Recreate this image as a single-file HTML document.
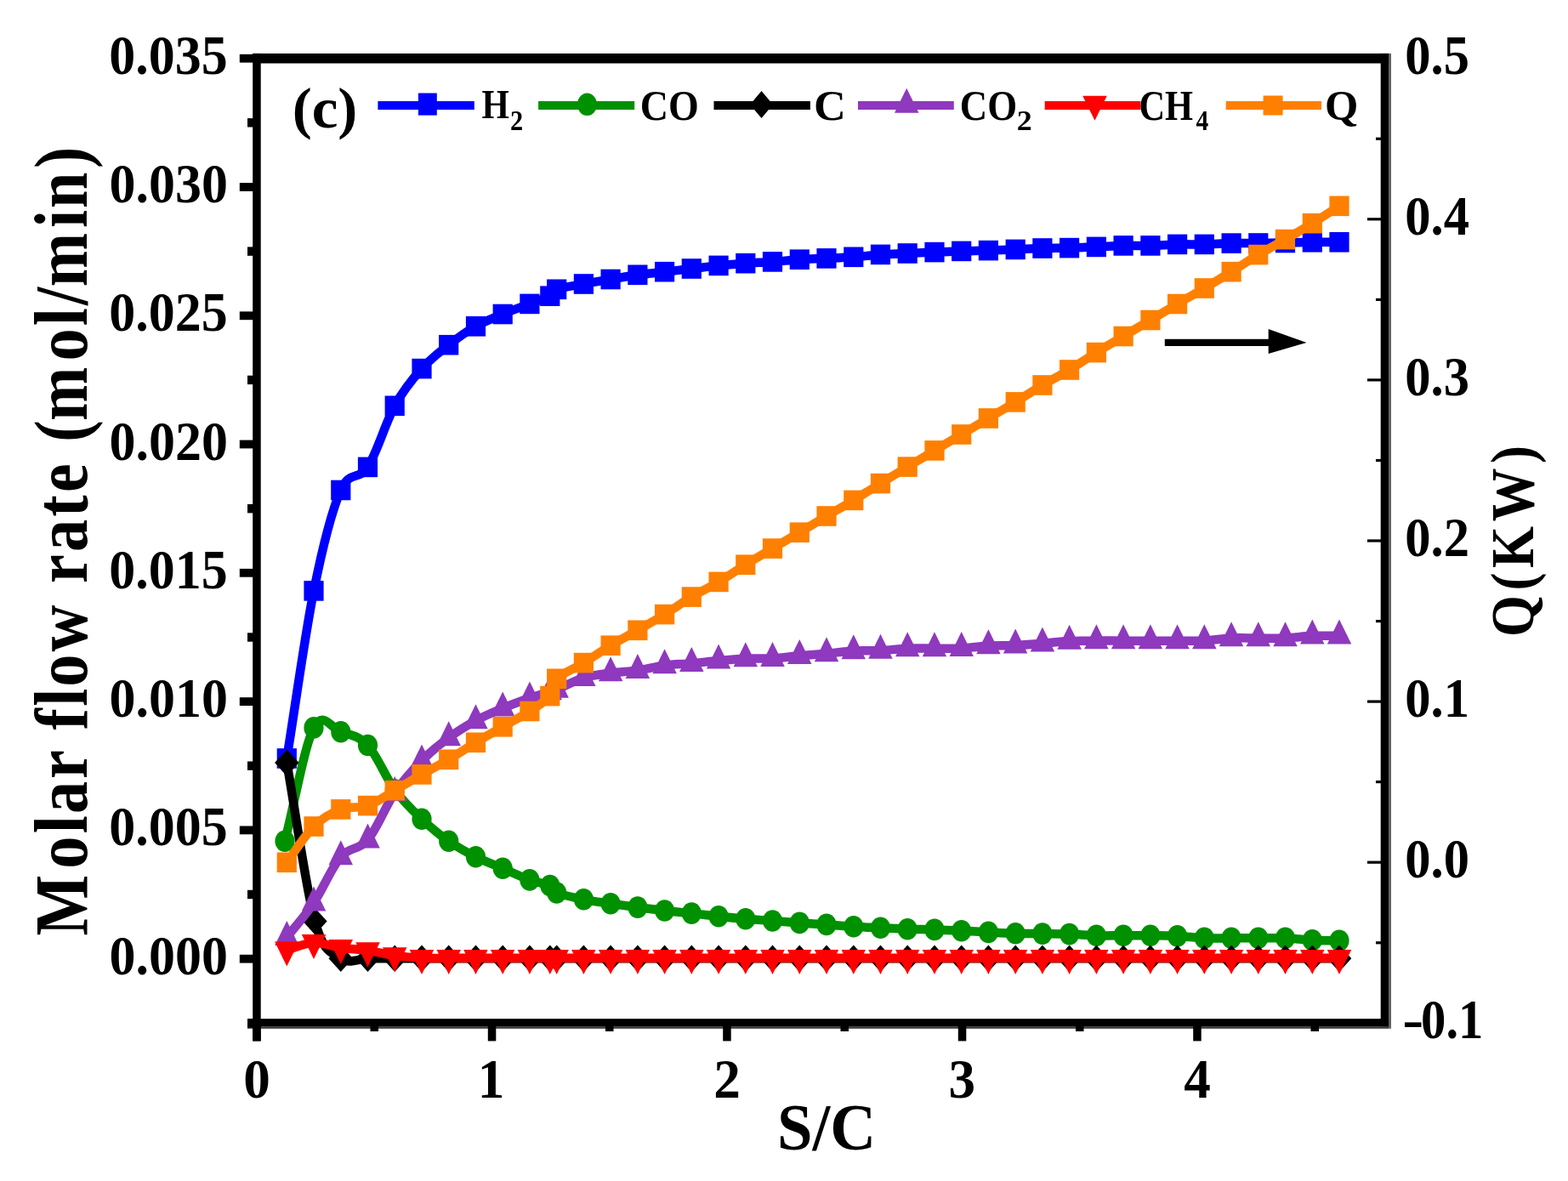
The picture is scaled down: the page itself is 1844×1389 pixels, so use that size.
<!DOCTYPE html>
<html><head><meta charset="utf-8"><title>Molar flow rate vs S/C</title>
<style>
html,body{margin:0;padding:0;background:#fff;}
svg{display:block;}
text{font-family:"Liberation Serif", "Times New Roman", serif;font-weight:bold;fill:#000;}
</style></head>
<body>
<svg width="1844" height="1389" viewBox="0 0 1844 1389">
<rect width="1844" height="1389" fill="#fff"/>
<path d="M337.30,892.00 C347.88,826.30 358.46,747.48 369.04,694.90 C379.61,642.32 390.19,600.75 400.77,576.50 C411.35,552.25 421.93,565.93 432.51,549.40 C443.09,532.87 453.67,496.60 464.24,477.30 C474.82,458.00 485.40,445.53 495.98,433.60 C506.56,421.67 517.14,414.00 527.72,405.70 C538.29,397.40 548.87,389.83 559.45,383.80 C570.03,377.77 580.61,373.90 591.19,369.50 C601.77,365.10 613.66,360.95 622.92,357.40 C632.19,353.85 641.51,351.05 646.80,348.20 C652.09,345.35 648.06,342.67 654.66,340.30 C661.26,337.93 675.82,335.97 686.40,334.00 C696.97,332.03 707.55,330.28 718.13,328.50 C728.71,326.72 739.29,324.77 749.87,323.30 C760.45,321.83 771.03,320.92 781.60,319.70 C792.18,318.48 802.76,317.22 813.34,316.00 C823.92,314.78 834.50,313.45 845.08,312.40 C855.65,311.35 866.23,310.45 876.81,309.70 C887.39,308.95 897.97,308.65 908.55,307.90 C919.13,307.15 929.71,305.87 940.28,305.20 C950.86,304.53 961.44,304.38 972.02,303.90 C982.60,303.42 993.18,303.05 1003.76,302.30 C1014.33,301.55 1024.91,300.12 1035.49,299.40 C1046.07,298.68 1056.65,298.47 1067.23,298.00 C1077.81,297.53 1088.39,297.03 1098.96,296.60 C1109.54,296.17 1120.12,295.73 1130.70,295.40 C1141.28,295.07 1151.86,294.93 1162.44,294.60 C1173.01,294.27 1183.59,293.83 1194.17,293.40 C1204.75,292.97 1215.33,292.30 1225.91,292.00 C1236.49,291.70 1247.07,291.87 1257.64,291.60 C1268.22,291.33 1278.80,290.85 1289.38,290.40 C1299.96,289.95 1310.54,289.15 1321.12,288.90 C1331.69,288.65 1342.27,289.15 1352.85,288.90 C1363.43,288.65 1374.01,287.65 1384.59,287.40 C1395.17,287.15 1405.75,287.62 1416.32,287.40 C1426.90,287.18 1437.48,286.33 1448.06,286.10 C1458.64,285.87 1469.22,286.10 1479.80,286.00 C1490.37,285.90 1500.95,285.70 1511.53,285.50 C1522.11,285.30 1532.69,284.92 1543.27,284.80 C1553.85,284.68 1564.43,284.80 1575.00,284.80" fill="none" stroke="#0000ff" stroke-width="10.5" stroke-linejoin="round" stroke-linecap="round"/>
<rect x="325.7" y="880.2" width="23.2" height="23.6" fill="#0000ff"/>
<rect x="357.4" y="683.1" width="23.2" height="23.6" fill="#0000ff"/>
<rect x="389.2" y="564.7" width="23.2" height="23.6" fill="#0000ff"/>
<rect x="420.9" y="537.6" width="23.2" height="23.6" fill="#0000ff"/>
<rect x="452.6" y="465.5" width="23.2" height="23.6" fill="#0000ff"/>
<rect x="484.4" y="421.8" width="23.2" height="23.6" fill="#0000ff"/>
<rect x="516.1" y="393.9" width="23.2" height="23.6" fill="#0000ff"/>
<rect x="547.9" y="372.0" width="23.2" height="23.6" fill="#0000ff"/>
<rect x="579.6" y="357.7" width="23.2" height="23.6" fill="#0000ff"/>
<rect x="611.3" y="345.6" width="23.2" height="23.6" fill="#0000ff"/>
<rect x="635.2" y="336.4" width="23.2" height="23.6" fill="#0000ff"/>
<rect x="643.1" y="328.5" width="23.2" height="23.6" fill="#0000ff"/>
<rect x="674.8" y="322.2" width="23.2" height="23.6" fill="#0000ff"/>
<rect x="706.5" y="316.7" width="23.2" height="23.6" fill="#0000ff"/>
<rect x="738.3" y="311.5" width="23.2" height="23.6" fill="#0000ff"/>
<rect x="770.0" y="307.9" width="23.2" height="23.6" fill="#0000ff"/>
<rect x="801.7" y="304.2" width="23.2" height="23.6" fill="#0000ff"/>
<rect x="833.5" y="300.6" width="23.2" height="23.6" fill="#0000ff"/>
<rect x="865.2" y="297.9" width="23.2" height="23.6" fill="#0000ff"/>
<rect x="896.9" y="296.1" width="23.2" height="23.6" fill="#0000ff"/>
<rect x="928.7" y="293.4" width="23.2" height="23.6" fill="#0000ff"/>
<rect x="960.4" y="292.1" width="23.2" height="23.6" fill="#0000ff"/>
<rect x="992.2" y="290.5" width="23.2" height="23.6" fill="#0000ff"/>
<rect x="1023.9" y="287.6" width="23.2" height="23.6" fill="#0000ff"/>
<rect x="1055.6" y="286.2" width="23.2" height="23.6" fill="#0000ff"/>
<rect x="1087.4" y="284.8" width="23.2" height="23.6" fill="#0000ff"/>
<rect x="1119.1" y="283.6" width="23.2" height="23.6" fill="#0000ff"/>
<rect x="1150.8" y="282.8" width="23.2" height="23.6" fill="#0000ff"/>
<rect x="1182.6" y="281.6" width="23.2" height="23.6" fill="#0000ff"/>
<rect x="1214.3" y="280.2" width="23.2" height="23.6" fill="#0000ff"/>
<rect x="1246.0" y="279.8" width="23.2" height="23.6" fill="#0000ff"/>
<rect x="1277.8" y="278.6" width="23.2" height="23.6" fill="#0000ff"/>
<rect x="1309.5" y="277.1" width="23.2" height="23.6" fill="#0000ff"/>
<rect x="1341.3" y="277.1" width="23.2" height="23.6" fill="#0000ff"/>
<rect x="1373.0" y="275.6" width="23.2" height="23.6" fill="#0000ff"/>
<rect x="1404.7" y="275.6" width="23.2" height="23.6" fill="#0000ff"/>
<rect x="1436.5" y="274.3" width="23.2" height="23.6" fill="#0000ff"/>
<rect x="1468.2" y="274.2" width="23.2" height="23.6" fill="#0000ff"/>
<rect x="1499.9" y="273.7" width="23.2" height="23.6" fill="#0000ff"/>
<rect x="1531.7" y="273.0" width="23.2" height="23.6" fill="#0000ff"/>
<rect x="1563.4" y="273.0" width="23.2" height="23.6" fill="#0000ff"/>
<path d="M335.00,989.30 C346.35,944.83 358.07,877.32 369.04,855.90 C380.00,834.48 390.19,857.37 400.77,860.80 C411.35,864.23 421.93,865.13 432.51,876.50 C443.09,887.87 453.67,914.53 464.24,929.00 C474.82,943.47 485.40,953.25 495.98,963.30 C506.56,973.35 517.14,981.88 527.72,989.30 C538.29,996.72 548.87,1002.47 559.45,1007.80 C570.03,1013.13 580.61,1016.78 591.19,1021.30 C601.77,1025.82 613.66,1031.53 622.92,1034.90 C632.19,1038.27 641.51,1038.98 646.80,1041.50 C652.09,1044.02 648.06,1047.28 654.66,1050.00 C661.26,1052.72 675.82,1055.68 686.40,1057.80 C696.97,1059.92 707.55,1061.15 718.13,1062.70 C728.71,1064.25 739.29,1065.72 749.87,1067.10 C760.45,1068.48 771.03,1069.83 781.60,1071.00 C792.18,1072.17 802.76,1072.97 813.34,1074.10 C823.92,1075.23 834.50,1076.68 845.08,1077.80 C855.65,1078.92 866.23,1079.93 876.81,1080.80 C887.39,1081.67 897.97,1082.23 908.55,1083.00 C919.13,1083.77 929.71,1084.67 940.28,1085.40 C950.86,1086.13 961.44,1086.67 972.02,1087.40 C982.60,1088.13 993.18,1089.15 1003.76,1089.80 C1014.33,1090.45 1024.91,1090.80 1035.49,1091.30 C1046.07,1091.80 1056.65,1092.45 1067.23,1092.80 C1077.81,1093.15 1088.39,1093.08 1098.96,1093.40 C1109.54,1093.72 1120.12,1094.20 1130.70,1094.70 C1141.28,1095.20 1151.86,1095.88 1162.44,1096.40 C1173.01,1096.92 1183.59,1097.52 1194.17,1097.80 C1204.75,1098.08 1215.33,1097.97 1225.91,1098.10 C1236.49,1098.23 1247.07,1098.23 1257.64,1098.60 C1268.22,1098.97 1278.80,1100.02 1289.38,1100.30 C1299.96,1100.58 1310.54,1100.30 1321.12,1100.30 C1331.69,1100.30 1342.27,1100.20 1352.85,1100.30 C1363.43,1100.40 1374.01,1100.40 1384.59,1100.90 C1395.17,1101.40 1405.75,1102.90 1416.32,1103.30 C1426.90,1103.70 1437.48,1103.30 1448.06,1103.30 C1458.64,1103.30 1469.22,1103.30 1479.80,1103.30 C1490.37,1103.30 1500.95,1102.88 1511.53,1103.30 C1522.11,1103.72 1532.69,1105.32 1543.27,1105.80 C1553.85,1106.28 1564.43,1106.07 1575.00,1106.20" fill="none" stroke="#009100" stroke-width="10.5" stroke-linejoin="round" stroke-linecap="round"/>
<ellipse cx="335.0" cy="989.3" rx="11.6" ry="12.8" fill="#009100"/>
<ellipse cx="369.0" cy="855.9" rx="11.6" ry="12.8" fill="#009100"/>
<ellipse cx="400.8" cy="860.8" rx="11.6" ry="12.8" fill="#009100"/>
<ellipse cx="432.5" cy="876.5" rx="11.6" ry="12.8" fill="#009100"/>
<ellipse cx="464.2" cy="929.0" rx="11.6" ry="12.8" fill="#009100"/>
<ellipse cx="496.0" cy="963.3" rx="11.6" ry="12.8" fill="#009100"/>
<ellipse cx="527.7" cy="989.3" rx="11.6" ry="12.8" fill="#009100"/>
<ellipse cx="559.5" cy="1007.8" rx="11.6" ry="12.8" fill="#009100"/>
<ellipse cx="591.2" cy="1021.3" rx="11.6" ry="12.8" fill="#009100"/>
<ellipse cx="622.9" cy="1034.9" rx="11.6" ry="12.8" fill="#009100"/>
<ellipse cx="646.8" cy="1041.5" rx="11.6" ry="12.8" fill="#009100"/>
<ellipse cx="654.7" cy="1050.0" rx="11.6" ry="12.8" fill="#009100"/>
<ellipse cx="686.4" cy="1057.8" rx="11.6" ry="12.8" fill="#009100"/>
<ellipse cx="718.1" cy="1062.7" rx="11.6" ry="12.8" fill="#009100"/>
<ellipse cx="749.9" cy="1067.1" rx="11.6" ry="12.8" fill="#009100"/>
<ellipse cx="781.6" cy="1071.0" rx="11.6" ry="12.8" fill="#009100"/>
<ellipse cx="813.3" cy="1074.1" rx="11.6" ry="12.8" fill="#009100"/>
<ellipse cx="845.1" cy="1077.8" rx="11.6" ry="12.8" fill="#009100"/>
<ellipse cx="876.8" cy="1080.8" rx="11.6" ry="12.8" fill="#009100"/>
<ellipse cx="908.5" cy="1083.0" rx="11.6" ry="12.8" fill="#009100"/>
<ellipse cx="940.3" cy="1085.4" rx="11.6" ry="12.8" fill="#009100"/>
<ellipse cx="972.0" cy="1087.4" rx="11.6" ry="12.8" fill="#009100"/>
<ellipse cx="1003.8" cy="1089.8" rx="11.6" ry="12.8" fill="#009100"/>
<ellipse cx="1035.5" cy="1091.3" rx="11.6" ry="12.8" fill="#009100"/>
<ellipse cx="1067.2" cy="1092.8" rx="11.6" ry="12.8" fill="#009100"/>
<ellipse cx="1099.0" cy="1093.4" rx="11.6" ry="12.8" fill="#009100"/>
<ellipse cx="1130.7" cy="1094.7" rx="11.6" ry="12.8" fill="#009100"/>
<ellipse cx="1162.4" cy="1096.4" rx="11.6" ry="12.8" fill="#009100"/>
<ellipse cx="1194.2" cy="1097.8" rx="11.6" ry="12.8" fill="#009100"/>
<ellipse cx="1225.9" cy="1098.1" rx="11.6" ry="12.8" fill="#009100"/>
<ellipse cx="1257.6" cy="1098.6" rx="11.6" ry="12.8" fill="#009100"/>
<ellipse cx="1289.4" cy="1100.3" rx="11.6" ry="12.8" fill="#009100"/>
<ellipse cx="1321.1" cy="1100.3" rx="11.6" ry="12.8" fill="#009100"/>
<ellipse cx="1352.9" cy="1100.3" rx="11.6" ry="12.8" fill="#009100"/>
<ellipse cx="1384.6" cy="1100.9" rx="11.6" ry="12.8" fill="#009100"/>
<ellipse cx="1416.3" cy="1103.3" rx="11.6" ry="12.8" fill="#009100"/>
<ellipse cx="1448.1" cy="1103.3" rx="11.6" ry="12.8" fill="#009100"/>
<ellipse cx="1479.8" cy="1103.3" rx="11.6" ry="12.8" fill="#009100"/>
<ellipse cx="1511.5" cy="1103.3" rx="11.6" ry="12.8" fill="#009100"/>
<ellipse cx="1543.3" cy="1105.8" rx="11.6" ry="12.8" fill="#009100"/>
<ellipse cx="1575.0" cy="1106.2" rx="11.6" ry="12.8" fill="#009100"/>
<path d="M337.30,897.10 C348.30,959.23 359.72,1045.13 370.30,1083.50 C380.88,1121.87 390.40,1120.00 400.77,1127.30 C411.14,1134.60 421.93,1127.30 432.51,1127.30 C443.09,1127.30 453.67,1127.30 464.24,1127.30 C474.82,1127.30 485.40,1127.30 495.98,1127.30 C506.56,1127.30 517.14,1127.30 527.72,1127.30 C538.29,1127.30 548.87,1127.30 559.45,1127.30 C570.03,1127.30 580.61,1127.30 591.19,1127.30 C601.77,1127.30 613.66,1127.30 622.92,1127.30 C632.19,1127.30 641.51,1127.30 646.80,1127.30 C652.09,1127.30 648.06,1127.30 654.66,1127.30 C661.26,1127.30 675.82,1127.30 686.40,1127.30 C696.97,1127.30 707.55,1127.30 718.13,1127.30 C728.71,1127.30 739.29,1127.30 749.87,1127.30 C760.45,1127.30 771.03,1127.30 781.60,1127.30 C792.18,1127.30 802.76,1127.30 813.34,1127.30 C823.92,1127.30 834.50,1127.30 845.08,1127.30 C855.65,1127.30 866.23,1127.30 876.81,1127.30 C887.39,1127.30 897.97,1127.30 908.55,1127.30 C919.13,1127.30 929.71,1127.30 940.28,1127.30 C950.86,1127.30 961.44,1127.30 972.02,1127.30 C982.60,1127.30 993.18,1127.30 1003.76,1127.30 C1014.33,1127.30 1024.91,1127.30 1035.49,1127.30 C1046.07,1127.30 1056.65,1127.30 1067.23,1127.30 C1077.81,1127.30 1088.39,1127.30 1098.96,1127.30 C1109.54,1127.30 1120.12,1127.30 1130.70,1127.30 C1141.28,1127.30 1151.86,1127.30 1162.44,1127.30 C1173.01,1127.30 1183.59,1127.30 1194.17,1127.30 C1204.75,1127.30 1215.33,1127.30 1225.91,1127.30 C1236.49,1127.30 1247.07,1127.30 1257.64,1127.30 C1268.22,1127.30 1278.80,1127.30 1289.38,1127.30 C1299.96,1127.30 1310.54,1127.30 1321.12,1127.30 C1331.69,1127.30 1342.27,1127.30 1352.85,1127.30 C1363.43,1127.30 1374.01,1127.30 1384.59,1127.30 C1395.17,1127.30 1405.75,1127.30 1416.32,1127.30 C1426.90,1127.30 1437.48,1127.30 1448.06,1127.30 C1458.64,1127.30 1469.22,1127.30 1479.80,1127.30 C1490.37,1127.30 1500.95,1127.30 1511.53,1127.30 C1522.11,1127.30 1532.69,1127.30 1543.27,1127.30 C1553.85,1127.30 1564.43,1127.30 1575.00,1127.30" fill="none" stroke="#000000" stroke-width="10.5" stroke-linejoin="round" stroke-linecap="round"/>
<polygon points="337.3,881.4 351.6,897.1 337.3,912.9 323.1,897.1" fill="#000000"/>
<polygon points="370.3,1067.8 384.6,1083.5 370.3,1099.2 356.1,1083.5" fill="#000000"/>
<polygon points="400.8,1111.5 415.0,1127.3 400.8,1143.0 386.5,1127.3" fill="#000000"/>
<polygon points="432.5,1111.5 446.8,1127.3 432.5,1143.0 418.3,1127.3" fill="#000000"/>
<polygon points="464.2,1111.5 478.5,1127.3 464.2,1143.0 450.0,1127.3" fill="#000000"/>
<polygon points="496.0,1111.5 510.2,1127.3 496.0,1143.0 481.7,1127.3" fill="#000000"/>
<polygon points="527.7,1111.5 542.0,1127.3 527.7,1143.0 513.5,1127.3" fill="#000000"/>
<polygon points="559.5,1111.5 573.7,1127.3 559.5,1143.0 545.2,1127.3" fill="#000000"/>
<polygon points="591.2,1111.5 605.4,1127.3 591.2,1143.0 576.9,1127.3" fill="#000000"/>
<polygon points="622.9,1111.5 637.2,1127.3 622.9,1143.0 608.7,1127.3" fill="#000000"/>
<polygon points="646.8,1111.5 661.0,1127.3 646.8,1143.0 632.5,1127.3" fill="#000000"/>
<polygon points="654.7,1111.5 668.9,1127.3 654.7,1143.0 640.4,1127.3" fill="#000000"/>
<polygon points="686.4,1111.5 700.6,1127.3 686.4,1143.0 672.1,1127.3" fill="#000000"/>
<polygon points="718.1,1111.5 732.4,1127.3 718.1,1143.0 703.9,1127.3" fill="#000000"/>
<polygon points="749.9,1111.5 764.1,1127.3 749.9,1143.0 735.6,1127.3" fill="#000000"/>
<polygon points="781.6,1111.5 795.9,1127.3 781.6,1143.0 767.4,1127.3" fill="#000000"/>
<polygon points="813.3,1111.5 827.6,1127.3 813.3,1143.0 799.1,1127.3" fill="#000000"/>
<polygon points="845.1,1111.5 859.3,1127.3 845.1,1143.0 830.8,1127.3" fill="#000000"/>
<polygon points="876.8,1111.5 891.1,1127.3 876.8,1143.0 862.6,1127.3" fill="#000000"/>
<polygon points="908.5,1111.5 922.8,1127.3 908.5,1143.0 894.3,1127.3" fill="#000000"/>
<polygon points="940.3,1111.5 954.5,1127.3 940.3,1143.0 926.0,1127.3" fill="#000000"/>
<polygon points="972.0,1111.5 986.3,1127.3 972.0,1143.0 957.8,1127.3" fill="#000000"/>
<polygon points="1003.8,1111.5 1018.0,1127.3 1003.8,1143.0 989.5,1127.3" fill="#000000"/>
<polygon points="1035.5,1111.5 1049.7,1127.3 1035.5,1143.0 1021.2,1127.3" fill="#000000"/>
<polygon points="1067.2,1111.5 1081.5,1127.3 1067.2,1143.0 1053.0,1127.3" fill="#000000"/>
<polygon points="1099.0,1111.5 1113.2,1127.3 1099.0,1143.0 1084.7,1127.3" fill="#000000"/>
<polygon points="1130.7,1111.5 1145.0,1127.3 1130.7,1143.0 1116.5,1127.3" fill="#000000"/>
<polygon points="1162.4,1111.5 1176.7,1127.3 1162.4,1143.0 1148.2,1127.3" fill="#000000"/>
<polygon points="1194.2,1111.5 1208.4,1127.3 1194.2,1143.0 1179.9,1127.3" fill="#000000"/>
<polygon points="1225.9,1111.5 1240.2,1127.3 1225.9,1143.0 1211.7,1127.3" fill="#000000"/>
<polygon points="1257.6,1111.5 1271.9,1127.3 1257.6,1143.0 1243.4,1127.3" fill="#000000"/>
<polygon points="1289.4,1111.5 1303.6,1127.3 1289.4,1143.0 1275.1,1127.3" fill="#000000"/>
<polygon points="1321.1,1111.5 1335.4,1127.3 1321.1,1143.0 1306.9,1127.3" fill="#000000"/>
<polygon points="1352.9,1111.5 1367.1,1127.3 1352.9,1143.0 1338.6,1127.3" fill="#000000"/>
<polygon points="1384.6,1111.5 1398.8,1127.3 1384.6,1143.0 1370.3,1127.3" fill="#000000"/>
<polygon points="1416.3,1111.5 1430.6,1127.3 1416.3,1143.0 1402.1,1127.3" fill="#000000"/>
<polygon points="1448.1,1111.5 1462.3,1127.3 1448.1,1143.0 1433.8,1127.3" fill="#000000"/>
<polygon points="1479.8,1111.5 1494.0,1127.3 1479.8,1143.0 1465.5,1127.3" fill="#000000"/>
<polygon points="1511.5,1111.5 1525.8,1127.3 1511.5,1143.0 1497.3,1127.3" fill="#000000"/>
<polygon points="1543.3,1111.5 1557.5,1127.3 1543.3,1143.0 1529.0,1127.3" fill="#000000"/>
<polygon points="1575.0,1111.5 1589.3,1127.3 1575.0,1143.0 1560.8,1127.3" fill="#000000"/>
<path d="M337.30,1102.33 C347.88,1088.83 358.46,1077.62 369.04,1061.83 C379.61,1046.05 390.19,1019.97 400.77,1007.63 C411.35,995.30 421.93,1000.38 432.51,987.83 C443.09,975.28 453.67,947.85 464.24,932.33 C474.82,916.82 485.40,905.52 495.98,894.73 C506.56,883.95 517.14,875.50 527.72,867.63 C538.29,859.77 548.87,853.32 559.45,847.53 C570.03,841.75 580.61,837.37 591.19,832.93 C601.77,828.50 613.66,824.16 622.92,820.93 C632.19,817.70 641.51,815.19 646.80,813.56 C652.09,811.93 648.06,813.84 654.66,811.13 C661.26,808.43 675.82,800.60 686.40,797.33 C696.97,794.07 707.55,793.03 718.13,791.53 C728.71,790.03 739.29,789.82 749.87,788.33 C760.45,786.85 771.03,783.98 781.60,782.63 C792.18,781.28 802.76,781.18 813.34,780.23 C823.92,779.28 834.50,777.87 845.08,776.93 C855.65,776.00 866.23,775.07 876.81,774.63 C887.39,774.20 897.97,774.90 908.55,774.33 C919.13,773.77 929.71,772.18 940.28,771.23 C950.86,770.28 961.44,769.58 972.02,768.63 C982.60,767.68 993.18,766.12 1003.76,765.53 C1014.33,764.95 1024.91,765.62 1035.49,765.13 C1046.07,764.65 1056.65,763.05 1067.23,762.63 C1077.81,762.22 1088.39,762.67 1098.96,762.63 C1109.54,762.60 1120.12,762.95 1130.70,762.43 C1141.28,761.92 1151.86,760.12 1162.44,759.53 C1173.01,758.95 1183.59,759.40 1194.17,758.93 C1204.75,758.47 1215.33,757.55 1225.91,756.73 C1236.49,755.92 1247.07,754.55 1257.64,754.03 C1268.22,753.52 1278.80,753.70 1289.38,753.63 C1299.96,753.57 1310.54,753.63 1321.12,753.63 C1331.69,753.63 1342.27,753.63 1352.85,753.63 C1363.43,753.63 1374.01,753.63 1384.59,753.63 C1395.17,753.63 1405.75,754.15 1416.32,753.63 C1426.90,753.12 1437.48,751.05 1448.06,750.53 C1458.64,750.02 1469.22,750.53 1479.80,750.53 C1490.37,750.53 1500.95,750.98 1511.53,750.53 C1522.11,750.08 1532.69,748.28 1543.27,747.83 C1553.85,747.38 1564.43,747.83 1575.00,747.83" fill="none" stroke="#8e39be" stroke-width="10.5" stroke-linejoin="round" stroke-linecap="round"/>
<polygon points="337.3,1083.0 351.6,1112.0 323.1,1112.0" fill="#8e39be"/>
<polygon points="369.0,1042.5 383.3,1071.5 354.8,1071.5" fill="#8e39be"/>
<polygon points="400.8,988.3 415.0,1017.3 386.5,1017.3" fill="#8e39be"/>
<polygon points="432.5,968.5 446.8,997.5 418.3,997.5" fill="#8e39be"/>
<polygon points="464.2,913.0 478.5,942.0 450.0,942.0" fill="#8e39be"/>
<polygon points="496.0,875.4 510.2,904.4 481.7,904.4" fill="#8e39be"/>
<polygon points="527.7,848.3 542.0,877.3 513.5,877.3" fill="#8e39be"/>
<polygon points="559.5,828.2 573.7,857.2 545.2,857.2" fill="#8e39be"/>
<polygon points="591.2,813.6 605.4,842.6 576.9,842.6" fill="#8e39be"/>
<polygon points="622.9,801.6 637.2,830.6 608.7,830.6" fill="#8e39be"/>
<polygon points="646.8,794.2 661.0,823.2 632.5,823.2" fill="#8e39be"/>
<polygon points="654.7,791.8 668.9,820.8 640.4,820.8" fill="#8e39be"/>
<polygon points="686.4,778.0 700.6,807.0 672.1,807.0" fill="#8e39be"/>
<polygon points="718.1,772.2 732.4,801.2 703.9,801.2" fill="#8e39be"/>
<polygon points="749.9,769.0 764.1,798.0 735.6,798.0" fill="#8e39be"/>
<polygon points="781.6,763.3 795.9,792.3 767.4,792.3" fill="#8e39be"/>
<polygon points="813.3,760.9 827.6,789.9 799.1,789.9" fill="#8e39be"/>
<polygon points="845.1,757.6 859.3,786.6 830.8,786.6" fill="#8e39be"/>
<polygon points="876.8,755.3 891.1,784.3 862.6,784.3" fill="#8e39be"/>
<polygon points="908.5,755.0 922.8,784.0 894.3,784.0" fill="#8e39be"/>
<polygon points="940.3,751.9 954.5,780.9 926.0,780.9" fill="#8e39be"/>
<polygon points="972.0,749.3 986.3,778.3 957.8,778.3" fill="#8e39be"/>
<polygon points="1003.8,746.2 1018.0,775.2 989.5,775.2" fill="#8e39be"/>
<polygon points="1035.5,745.8 1049.7,774.8 1021.2,774.8" fill="#8e39be"/>
<polygon points="1067.2,743.3 1081.5,772.3 1053.0,772.3" fill="#8e39be"/>
<polygon points="1099.0,743.3 1113.2,772.3 1084.7,772.3" fill="#8e39be"/>
<polygon points="1130.7,743.1 1145.0,772.1 1116.5,772.1" fill="#8e39be"/>
<polygon points="1162.4,740.2 1176.7,769.2 1148.2,769.2" fill="#8e39be"/>
<polygon points="1194.2,739.6 1208.4,768.6 1179.9,768.6" fill="#8e39be"/>
<polygon points="1225.9,737.4 1240.2,766.4 1211.7,766.4" fill="#8e39be"/>
<polygon points="1257.6,734.7 1271.9,763.7 1243.4,763.7" fill="#8e39be"/>
<polygon points="1289.4,734.3 1303.6,763.3 1275.1,763.3" fill="#8e39be"/>
<polygon points="1321.1,734.3 1335.4,763.3 1306.9,763.3" fill="#8e39be"/>
<polygon points="1352.9,734.3 1367.1,763.3 1338.6,763.3" fill="#8e39be"/>
<polygon points="1384.6,734.3 1398.8,763.3 1370.3,763.3" fill="#8e39be"/>
<polygon points="1416.3,734.3 1430.6,763.3 1402.1,763.3" fill="#8e39be"/>
<polygon points="1448.1,731.2 1462.3,760.2 1433.8,760.2" fill="#8e39be"/>
<polygon points="1479.8,731.2 1494.0,760.2 1465.5,760.2" fill="#8e39be"/>
<polygon points="1511.5,731.2 1525.8,760.2 1497.3,760.2" fill="#8e39be"/>
<polygon points="1543.3,728.5 1557.5,757.5 1529.0,757.5" fill="#8e39be"/>
<polygon points="1575.0,728.5 1589.3,757.5 1560.8,757.5" fill="#8e39be"/>
<path d="M337.30,1117.20 C347.88,1114.37 358.46,1109.12 369.04,1108.70 C379.61,1108.28 390.19,1113.17 400.77,1114.70 C411.35,1116.23 421.93,1116.37 432.51,1117.90 C443.09,1119.43 453.67,1122.42 464.24,1123.90 C474.82,1125.38 485.40,1126.32 495.98,1126.80 C506.56,1127.28 517.14,1126.80 527.72,1126.80 C538.29,1126.80 548.87,1126.80 559.45,1126.80 C570.03,1126.80 580.61,1126.80 591.19,1126.80 C601.77,1126.80 613.66,1126.80 622.92,1126.80 C632.19,1126.80 641.51,1126.80 646.80,1126.80 C652.09,1126.80 648.06,1126.80 654.66,1126.80 C661.26,1126.80 675.82,1126.80 686.40,1126.80 C696.97,1126.80 707.55,1126.80 718.13,1126.80 C728.71,1126.80 739.29,1126.80 749.87,1126.80 C760.45,1126.80 771.03,1126.80 781.60,1126.80 C792.18,1126.80 802.76,1126.80 813.34,1126.80 C823.92,1126.80 834.50,1126.80 845.08,1126.80 C855.65,1126.80 866.23,1126.80 876.81,1126.80 C887.39,1126.80 897.97,1126.80 908.55,1126.80 C919.13,1126.80 929.71,1126.80 940.28,1126.80 C950.86,1126.80 961.44,1126.80 972.02,1126.80 C982.60,1126.80 993.18,1126.80 1003.76,1126.80 C1014.33,1126.80 1024.91,1126.80 1035.49,1126.80 C1046.07,1126.80 1056.65,1126.80 1067.23,1126.80 C1077.81,1126.80 1088.39,1126.80 1098.96,1126.80 C1109.54,1126.80 1120.12,1126.80 1130.70,1126.80 C1141.28,1126.80 1151.86,1126.80 1162.44,1126.80 C1173.01,1126.80 1183.59,1126.80 1194.17,1126.80 C1204.75,1126.80 1215.33,1126.80 1225.91,1126.80 C1236.49,1126.80 1247.07,1126.80 1257.64,1126.80 C1268.22,1126.80 1278.80,1126.80 1289.38,1126.80 C1299.96,1126.80 1310.54,1126.80 1321.12,1126.80 C1331.69,1126.80 1342.27,1126.80 1352.85,1126.80 C1363.43,1126.80 1374.01,1126.80 1384.59,1126.80 C1395.17,1126.80 1405.75,1126.80 1416.32,1126.80 C1426.90,1126.80 1437.48,1126.80 1448.06,1126.80 C1458.64,1126.80 1469.22,1126.80 1479.80,1126.80 C1490.37,1126.80 1500.95,1126.80 1511.53,1126.80 C1522.11,1126.80 1532.69,1126.80 1543.27,1126.80 C1553.85,1126.80 1564.43,1126.80 1575.00,1126.80" fill="none" stroke="#ff0000" stroke-width="10.5" stroke-linejoin="round" stroke-linecap="round"/>
<polygon points="323.1,1107.5 351.6,1107.5 337.3,1136.5" fill="#ff0000"/>
<polygon points="354.8,1099.0 383.3,1099.0 369.0,1128.0" fill="#ff0000"/>
<polygon points="386.5,1105.0 415.0,1105.0 400.8,1134.0" fill="#ff0000"/>
<polygon points="418.3,1108.2 446.8,1108.2 432.5,1137.2" fill="#ff0000"/>
<polygon points="450.0,1114.2 478.5,1114.2 464.2,1143.2" fill="#ff0000"/>
<polygon points="481.7,1117.1 510.2,1117.1 496.0,1146.1" fill="#ff0000"/>
<polygon points="513.5,1117.1 542.0,1117.1 527.7,1146.1" fill="#ff0000"/>
<polygon points="545.2,1117.1 573.7,1117.1 559.5,1146.1" fill="#ff0000"/>
<polygon points="576.9,1117.1 605.4,1117.1 591.2,1146.1" fill="#ff0000"/>
<polygon points="608.7,1117.1 637.2,1117.1 622.9,1146.1" fill="#ff0000"/>
<polygon points="632.5,1117.1 661.0,1117.1 646.8,1146.1" fill="#ff0000"/>
<polygon points="640.4,1117.1 668.9,1117.1 654.7,1146.1" fill="#ff0000"/>
<polygon points="672.1,1117.1 700.6,1117.1 686.4,1146.1" fill="#ff0000"/>
<polygon points="703.9,1117.1 732.4,1117.1 718.1,1146.1" fill="#ff0000"/>
<polygon points="735.6,1117.1 764.1,1117.1 749.9,1146.1" fill="#ff0000"/>
<polygon points="767.4,1117.1 795.9,1117.1 781.6,1146.1" fill="#ff0000"/>
<polygon points="799.1,1117.1 827.6,1117.1 813.3,1146.1" fill="#ff0000"/>
<polygon points="830.8,1117.1 859.3,1117.1 845.1,1146.1" fill="#ff0000"/>
<polygon points="862.6,1117.1 891.1,1117.1 876.8,1146.1" fill="#ff0000"/>
<polygon points="894.3,1117.1 922.8,1117.1 908.5,1146.1" fill="#ff0000"/>
<polygon points="926.0,1117.1 954.5,1117.1 940.3,1146.1" fill="#ff0000"/>
<polygon points="957.8,1117.1 986.3,1117.1 972.0,1146.1" fill="#ff0000"/>
<polygon points="989.5,1117.1 1018.0,1117.1 1003.8,1146.1" fill="#ff0000"/>
<polygon points="1021.2,1117.1 1049.7,1117.1 1035.5,1146.1" fill="#ff0000"/>
<polygon points="1053.0,1117.1 1081.5,1117.1 1067.2,1146.1" fill="#ff0000"/>
<polygon points="1084.7,1117.1 1113.2,1117.1 1099.0,1146.1" fill="#ff0000"/>
<polygon points="1116.5,1117.1 1145.0,1117.1 1130.7,1146.1" fill="#ff0000"/>
<polygon points="1148.2,1117.1 1176.7,1117.1 1162.4,1146.1" fill="#ff0000"/>
<polygon points="1179.9,1117.1 1208.4,1117.1 1194.2,1146.1" fill="#ff0000"/>
<polygon points="1211.7,1117.1 1240.2,1117.1 1225.9,1146.1" fill="#ff0000"/>
<polygon points="1243.4,1117.1 1271.9,1117.1 1257.6,1146.1" fill="#ff0000"/>
<polygon points="1275.1,1117.1 1303.6,1117.1 1289.4,1146.1" fill="#ff0000"/>
<polygon points="1306.9,1117.1 1335.4,1117.1 1321.1,1146.1" fill="#ff0000"/>
<polygon points="1338.6,1117.1 1367.1,1117.1 1352.9,1146.1" fill="#ff0000"/>
<polygon points="1370.3,1117.1 1398.8,1117.1 1384.6,1146.1" fill="#ff0000"/>
<polygon points="1402.1,1117.1 1430.6,1117.1 1416.3,1146.1" fill="#ff0000"/>
<polygon points="1433.8,1117.1 1462.3,1117.1 1448.1,1146.1" fill="#ff0000"/>
<polygon points="1465.5,1117.1 1494.0,1117.1 1479.8,1146.1" fill="#ff0000"/>
<polygon points="1497.3,1117.1 1525.8,1117.1 1511.5,1146.1" fill="#ff0000"/>
<polygon points="1529.0,1117.1 1557.5,1117.1 1543.3,1146.1" fill="#ff0000"/>
<polygon points="1560.8,1117.1 1589.3,1117.1 1575.0,1146.1" fill="#ff0000"/>
<path d="M337.30,1014.30 C347.88,1000.20 358.46,982.40 369.04,972.00 C379.61,961.60 390.19,955.97 400.77,951.90 C411.35,947.83 421.93,951.30 432.51,947.60 C443.09,943.90 453.67,935.82 464.24,929.70 C474.82,923.58 485.40,916.97 495.98,910.90 C506.56,904.83 517.14,899.57 527.72,893.30 C538.29,887.03 548.87,879.72 559.45,873.30 C570.03,866.88 580.61,860.93 591.19,854.80 C601.77,848.67 613.66,842.53 622.92,836.50 C632.19,830.47 641.51,824.97 646.80,818.60 C652.09,812.23 648.06,804.80 654.66,798.30 C661.26,791.80 675.82,786.12 686.40,779.60 C696.97,773.08 707.55,765.58 718.13,759.20 C728.71,752.82 739.29,747.40 749.87,741.30 C760.45,735.20 771.03,729.13 781.60,722.60 C792.18,716.07 802.76,708.47 813.34,702.10 C823.92,695.73 834.50,690.72 845.08,684.40 C855.65,678.08 866.23,670.75 876.81,664.20 C887.39,657.65 897.97,651.43 908.55,645.10 C919.13,638.77 929.71,632.55 940.28,626.20 C950.86,619.85 961.44,613.30 972.02,607.00 C982.60,600.70 993.18,594.80 1003.76,588.40 C1014.33,582.00 1024.91,575.15 1035.49,568.60 C1046.07,562.05 1056.65,555.55 1067.23,549.10 C1077.81,542.65 1088.39,536.25 1098.96,529.90 C1109.54,523.55 1120.12,517.32 1130.70,511.00 C1141.28,504.68 1151.86,498.35 1162.44,492.00 C1173.01,485.65 1183.59,479.40 1194.17,472.90 C1204.75,466.40 1215.33,459.32 1225.91,453.00 C1236.49,446.68 1247.07,441.40 1257.64,435.00 C1268.22,428.60 1278.80,421.18 1289.38,414.60 C1299.96,408.02 1310.54,401.85 1321.12,395.50 C1331.69,389.15 1342.27,382.83 1352.85,376.50 C1363.43,370.17 1374.01,363.75 1384.59,357.50 C1395.17,351.25 1405.75,345.30 1416.32,339.00 C1426.90,332.70 1437.48,326.27 1448.06,319.70 C1458.64,313.13 1469.22,305.95 1479.80,299.60 C1490.37,293.25 1500.95,287.75 1511.53,281.60 C1522.11,275.45 1532.69,269.25 1543.27,262.70 C1553.85,256.15 1564.43,249.10 1575.00,242.30" fill="none" stroke="#ff8000" stroke-width="10.5" stroke-linejoin="round" stroke-linecap="round"/>
<rect x="325.7" y="1002.5" width="23.2" height="23.6" fill="#ff8000"/>
<rect x="357.4" y="960.2" width="23.2" height="23.6" fill="#ff8000"/>
<rect x="389.2" y="940.1" width="23.2" height="23.6" fill="#ff8000"/>
<rect x="420.9" y="935.8" width="23.2" height="23.6" fill="#ff8000"/>
<rect x="452.6" y="917.9" width="23.2" height="23.6" fill="#ff8000"/>
<rect x="484.4" y="899.1" width="23.2" height="23.6" fill="#ff8000"/>
<rect x="516.1" y="881.5" width="23.2" height="23.6" fill="#ff8000"/>
<rect x="547.9" y="861.5" width="23.2" height="23.6" fill="#ff8000"/>
<rect x="579.6" y="843.0" width="23.2" height="23.6" fill="#ff8000"/>
<rect x="611.3" y="824.7" width="23.2" height="23.6" fill="#ff8000"/>
<rect x="635.2" y="806.8" width="23.2" height="23.6" fill="#ff8000"/>
<rect x="643.1" y="786.5" width="23.2" height="23.6" fill="#ff8000"/>
<rect x="674.8" y="767.8" width="23.2" height="23.6" fill="#ff8000"/>
<rect x="706.5" y="747.4" width="23.2" height="23.6" fill="#ff8000"/>
<rect x="738.3" y="729.5" width="23.2" height="23.6" fill="#ff8000"/>
<rect x="770.0" y="710.8" width="23.2" height="23.6" fill="#ff8000"/>
<rect x="801.7" y="690.3" width="23.2" height="23.6" fill="#ff8000"/>
<rect x="833.5" y="672.6" width="23.2" height="23.6" fill="#ff8000"/>
<rect x="865.2" y="652.4" width="23.2" height="23.6" fill="#ff8000"/>
<rect x="896.9" y="633.3" width="23.2" height="23.6" fill="#ff8000"/>
<rect x="928.7" y="614.4" width="23.2" height="23.6" fill="#ff8000"/>
<rect x="960.4" y="595.2" width="23.2" height="23.6" fill="#ff8000"/>
<rect x="992.2" y="576.6" width="23.2" height="23.6" fill="#ff8000"/>
<rect x="1023.9" y="556.8" width="23.2" height="23.6" fill="#ff8000"/>
<rect x="1055.6" y="537.3" width="23.2" height="23.6" fill="#ff8000"/>
<rect x="1087.4" y="518.1" width="23.2" height="23.6" fill="#ff8000"/>
<rect x="1119.1" y="499.2" width="23.2" height="23.6" fill="#ff8000"/>
<rect x="1150.8" y="480.2" width="23.2" height="23.6" fill="#ff8000"/>
<rect x="1182.6" y="461.1" width="23.2" height="23.6" fill="#ff8000"/>
<rect x="1214.3" y="441.2" width="23.2" height="23.6" fill="#ff8000"/>
<rect x="1246.0" y="423.2" width="23.2" height="23.6" fill="#ff8000"/>
<rect x="1277.8" y="402.8" width="23.2" height="23.6" fill="#ff8000"/>
<rect x="1309.5" y="383.7" width="23.2" height="23.6" fill="#ff8000"/>
<rect x="1341.3" y="364.7" width="23.2" height="23.6" fill="#ff8000"/>
<rect x="1373.0" y="345.7" width="23.2" height="23.6" fill="#ff8000"/>
<rect x="1404.7" y="327.2" width="23.2" height="23.6" fill="#ff8000"/>
<rect x="1436.5" y="307.9" width="23.2" height="23.6" fill="#ff8000"/>
<rect x="1468.2" y="287.8" width="23.2" height="23.6" fill="#ff8000"/>
<rect x="1499.9" y="269.8" width="23.2" height="23.6" fill="#ff8000"/>
<rect x="1531.7" y="250.9" width="23.2" height="23.6" fill="#ff8000"/>
<rect x="1563.4" y="230.5" width="23.2" height="23.6" fill="#ff8000"/>
<rect x="1633.1" y="62.9" width="2.900000000000091" height="1146.8999999999999" fill="#636363"/>
<rect x="291" y="1207.2" width="1342.1" height="2.599999999999909" fill="#3a3a3a"/>
<rect x="297.2" y="62.9" width="9.5" height="1161.5" fill="#000"/>
<rect x="1623.7" y="62.9" width="9.399999999999864" height="1144.3" fill="#000"/>
<rect x="297.2" y="62.9" width="1335.8999999999999" height="11.600000000000001" fill="#000"/>
<rect x="297.2" y="1198.2" width="1335.8999999999999" height="9.0" fill="#000"/>
<rect x="281.8" y="1122.8" width="20.19999999999999" height="9.8" fill="#000"/>
<rect x="281.8" y="971.5" width="20.19999999999999" height="9.8" fill="#000"/>
<rect x="281.8" y="820.2" width="20.19999999999999" height="9.8" fill="#000"/>
<rect x="281.8" y="668.9" width="20.19999999999999" height="9.8" fill="#000"/>
<rect x="281.8" y="517.6" width="20.19999999999999" height="9.8" fill="#000"/>
<rect x="281.8" y="366.4" width="20.19999999999999" height="9.8" fill="#000"/>
<rect x="281.8" y="215.1" width="20.19999999999999" height="9.8" fill="#000"/>
<rect x="281.8" y="63.8" width="20.19999999999999" height="9.8" fill="#000"/>
<rect x="291" y="1198.1" width="11.0" height="10.4" fill="#000"/>
<rect x="291" y="1046.8" width="11.0" height="10.4" fill="#000"/>
<rect x="291" y="895.5" width="11.0" height="10.4" fill="#000"/>
<rect x="291" y="744.3" width="11.0" height="10.4" fill="#000"/>
<rect x="291" y="593.0" width="11.0" height="10.4" fill="#000"/>
<rect x="291" y="441.7" width="11.0" height="10.4" fill="#000"/>
<rect x="291" y="290.4" width="11.0" height="10.4" fill="#000"/>
<rect x="291" y="139.1" width="11.0" height="10.4" fill="#000"/>
<rect x="297.2" y="1203.3" width="9.5" height="21.1" fill="#000"/>
<rect x="573.8" y="1203.3" width="9.5" height="21.1" fill="#000"/>
<rect x="850.2" y="1203.3" width="9.5" height="21.1" fill="#000"/>
<rect x="1126.8" y="1203.3" width="9.5" height="21.1" fill="#000"/>
<rect x="1403.2" y="1203.3" width="9.5" height="21.1" fill="#000"/>
<rect x="435.5" y="1203.3" width="9.5" height="9.7" fill="#000"/>
<rect x="712.0" y="1203.3" width="9.5" height="9.7" fill="#000"/>
<rect x="988.5" y="1203.3" width="9.5" height="9.7" fill="#000"/>
<rect x="1265.0" y="1203.3" width="9.5" height="9.7" fill="#000"/>
<rect x="1541.5" y="1203.3" width="9.5" height="9.7" fill="#000"/>
<rect x="1608" y="67.1" width="16.200000000000045" height="3.2" fill="#000"/>
<rect x="1608" y="256.2" width="16.200000000000045" height="3.2" fill="#000"/>
<rect x="1608" y="445.3" width="16.200000000000045" height="3.2" fill="#000"/>
<rect x="1608" y="634.4" width="16.200000000000045" height="3.2" fill="#000"/>
<rect x="1608" y="823.5" width="16.200000000000045" height="3.2" fill="#000"/>
<rect x="1608" y="1012.6" width="16.200000000000045" height="3.2" fill="#000"/>
<rect x="1608" y="1201.7" width="16.200000000000045" height="3.2" fill="#000"/>
<rect x="1618" y="161.6" width="6.2000000000000455" height="3.2" fill="#000"/>
<rect x="1618" y="350.8" width="6.2000000000000455" height="3.2" fill="#000"/>
<rect x="1618" y="539.9" width="6.2000000000000455" height="3.2" fill="#000"/>
<rect x="1618" y="729.0" width="6.2000000000000455" height="3.2" fill="#000"/>
<rect x="1618" y="918.0" width="6.2000000000000455" height="3.2" fill="#000"/>
<rect x="1618" y="1107.2" width="6.2000000000000455" height="3.2" fill="#000"/>
<text transform="translate(128.30,86.70) scale(0.9500,1)" font-size="65.2" >0.035</text>
<text transform="translate(128.61,237.98) scale(0.9500,1)" font-size="65.2" >0.030</text>
<text transform="translate(128.30,389.26) scale(0.9500,1)" font-size="65.2" >0.025</text>
<text transform="translate(128.61,540.54) scale(0.9500,1)" font-size="65.2" >0.020</text>
<text transform="translate(128.30,691.82) scale(0.9500,1)" font-size="65.2" >0.015</text>
<text transform="translate(128.61,843.10) scale(0.9500,1)" font-size="65.2" >0.010</text>
<text transform="translate(128.30,994.38) scale(0.9500,1)" font-size="65.2" >0.005</text>
<text transform="translate(128.61,1145.66) scale(0.9500,1)" font-size="65.2" >0.000</text>
<text transform="translate(1652.27,86.70) scale(0.9300,1)" font-size="65.2" >0.5</text>
<text transform="translate(1652.27,275.80) scale(0.9300,1)" font-size="65.2" >0.4</text>
<text transform="translate(1652.27,464.90) scale(0.9300,1)" font-size="65.2" >0.3</text>
<text transform="translate(1652.27,654.00) scale(0.9300,1)" font-size="65.2" >0.2</text>
<text transform="translate(1652.27,843.10) scale(0.9300,1)" font-size="65.2" >0.1</text>
<text transform="translate(1652.27,1032.20) scale(0.9300,1)" font-size="65.2" >0.0</text>
<text transform="translate(1649.17,1221.30) scale(1.1503,1)" font-size="65.2" >-</text>
<text transform="translate(1671.05,1221.30) scale(0.9004,1)" font-size="65.2" >0.1</text>
<text transform="translate(286.19,1291.00) scale(0.9700,1)" font-size="65.2" >0</text>
<text transform="translate(561.74,1291.00) scale(0.9700,1)" font-size="65.2" >1</text>
<text transform="translate(839.35,1291.00) scale(0.9700,1)" font-size="65.2" >2</text>
<text transform="translate(1115.53,1291.00) scale(0.9700,1)" font-size="65.2" >3</text>
<text transform="translate(1392.35,1291.00) scale(0.9700,1)" font-size="65.2" >4</text>
<text transform="translate(913.99,1352.30) scale(0.9512,1)" font-size="78.5" >S/C</text>
<text transform="translate(102.3,1100.5) rotate(-90) scale(0.855,1)" font-size="89" letter-spacing="3.78" dx="0.00 4.33 0.35 -1.40 -0.23 0.00 -0.70 -0.70 -1.64 0.00 0.00 0.00 0.00 0.00 0.00 0.00 0.00 -4.44 4.44 0.00 0.00 -3.16 3.16 -1.75 1.75">Molar flow rate (mol/min)</text>
<text transform="translate(1802.6,749) rotate(-90) scale(0.87,1)" font-size="72.3" letter-spacing="6.4">Q(KW)</text>
<text transform="translate(343.69,149.80) scale(1.0331,1)" font-size="66.9" >(c)</text>
<rect x="444.4" y="119.0" width="113.39999999999998" height="10" fill="#0000ff"/>
<rect x="491.9" y="109.5" width="21.9" height="26.1" fill="#0000ff"/>
<text transform="translate(566.38,138.80) scale(0.8492,1)" font-size="49" >H</text>
<text transform="translate(599.99,152.50) scale(0.8930,1)" font-size="34" >2</text>
<rect x="633.1" y="119.0" width="113.10000000000002" height="10" fill="#009100"/>
<ellipse cx="690.5" cy="122.8" rx="11.5" ry="13.2" fill="#009100"/>
<text transform="translate(752.70,141.00) scale(0.8946,1)" font-size="51.5" >CO</text>
<rect x="839.5" y="119.0" width="113.39999999999998" height="10" fill="#000000"/>
<polygon points="895.5,107.0 909.0,123.0 895.5,139.0 882.0,123.0" fill="#000000"/>
<text transform="translate(956.98,141.00) scale(1.0182,1)" font-size="51.5" >C</text>
<rect x="1009" y="119.0" width="112.79999999999995" height="10" fill="#8e39be"/>
<polygon points="1066.2,103.7 1080.5,132.7 1052.0,132.7" fill="#8e39be"/>
<text transform="translate(1128.85,141.00) scale(0.8724,1)" font-size="51.5" >CO</text>
<text transform="translate(1195.86,152.80) scale(1.0560,1)" font-size="34" >2</text>
<rect x="1228.7" y="119.0" width="112.79999999999995" height="10" fill="#ff0000"/>
<polygon points="1273.2,112.8 1301.8,112.8 1287.5,141.8" fill="#ff0000"/>
<text transform="translate(1339.38,141.00) scale(0.8242,1)" font-size="51.5" >CH</text>
<text transform="translate(1406.56,152.50) scale(0.8665,1)" font-size="34" >4</text>
<rect x="1441.7" y="119.0" width="112.29999999999995" height="10" fill="#ff8000"/>
<rect x="1485.6" y="112.5" width="23" height="23" fill="#ff8000"/>
<text transform="translate(1558.07,141.00) scale(0.9836,1)" font-size="51.5" >Q</text>
<rect x="1369.8" y="398.8" width="125" height="8.2" fill="#000"/>
<polygon points="1491.7,387.1 1536.5,402.9 1491.7,416.1" fill="#000"/>
</svg>
</body></html>
